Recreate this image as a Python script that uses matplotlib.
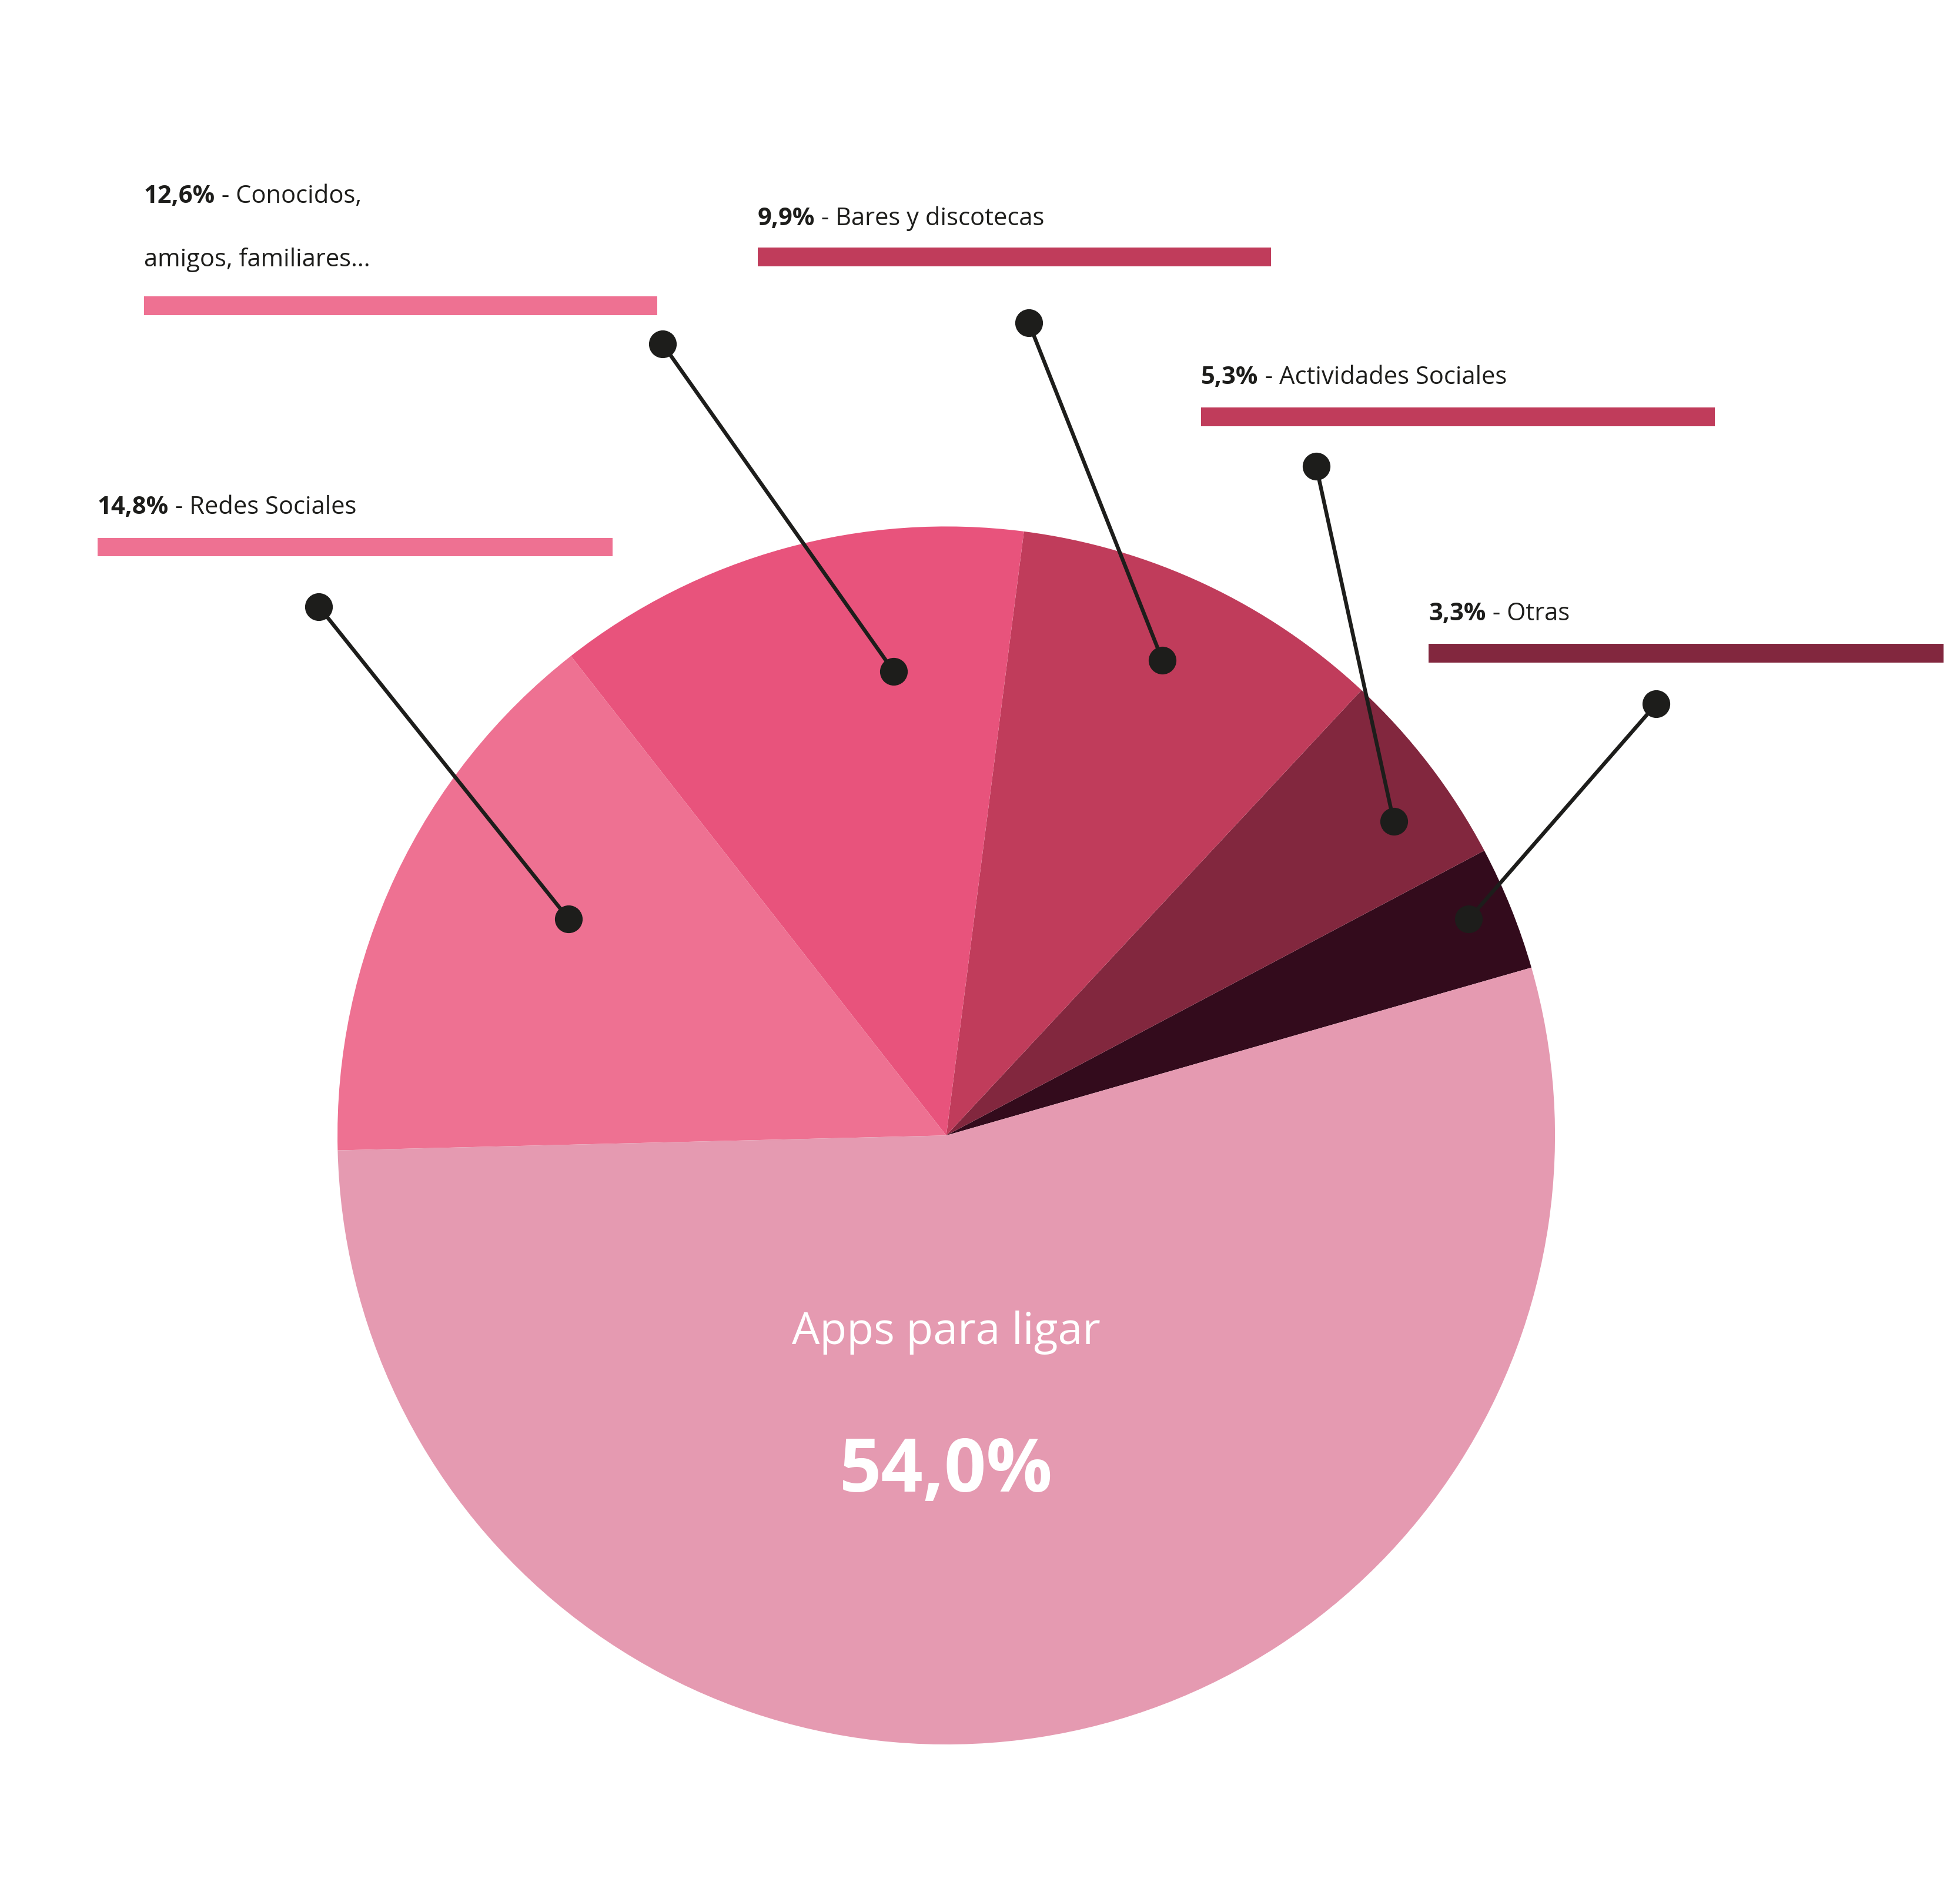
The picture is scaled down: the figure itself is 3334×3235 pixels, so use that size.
import matplotlib
matplotlib.use("Agg")
import matplotlib.pyplot as plt
from matplotlib.patches import Rectangle

labels = ["Otras", "Actividades Sociales", "Bares y discotecas", "Conocidos, amigos, familiares...", "Redes Sociales", "Apps para ligar"]
values = [3.3, 5.3, 9.9, 12.6, 14.8, 54.0]
pct_text = ["3,3%", "5,3%", "9,9%", "12,6%", "14,8%", "54,0%"]
colors = ["#330B1C", "#82273E", "#C03C5B", "#E8537C", "#EE7192", "#E59AB1"]
bar_colors = ["#82273E", "#C03C5B", "#C03C5B", "#EE7192", "#EE7192"]

W, H = 1568, 1521
fig = plt.figure(figsize=(33.34, 32.35), dpi=100)
ax = fig.add_axes([0, 0, 1, 1])
ax.set_xlim(0, W); ax.set_ylim(0, H); ax.axis("off")
Y = lambda y: H - y
FONT = "Open Sans"

cx, cy, R = 757, Y(908), 487
ax.pie(values, colors=colors, startangle=16, counterclock=True, center=(cx, cy), radius=R,
       frame=True, wedgeprops=dict(linewidth=0))
ax.set_xlim(0, W); ax.set_ylim(0, H); ax.set_aspect("auto"); ax.axis("off")

# label layout (text x, baseline y, bar y top, bar x end), leader (outer, inner)
lay = [
    (1143, 496, 515, 1555, (1325, 563), (1175, 735)),
    (961, 307, 326, 1372, (1053, 373), (1115, 657)),
    (606, 180, 198, 1017, (823, 258), (930, 528)),
    (115, 162, 237, 526, (530, 275), (715, 537)),
    (78, 411, 430, 490, (255, 485), (455, 735)),
]
fig.canvas.draw()
rend = fig.canvas.get_renderer()
fs = 30
for i, (tx, by, bt, bx2, o, inn) in enumerate(lay):
    t = ax.text(tx, Y(by), pct_text[i], fontsize=fs, fontweight="bold", family=FONT,
                color="#1d1d1b", va="baseline")
    bb = t.get_window_extent(renderer=rend)
    x2 = ax.transData.inverted().transform((bb.x1, bb.y0))[0]
    if i == 3:
        ax.text(x2, Y(by), " - Conocidos,", fontsize=fs, family=FONT, color="#1d1d1b", va="baseline")
        ax.text(tx, Y(213), "amigos, familiares...", fontsize=fs, family=FONT, color="#1d1d1b", va="baseline")
    else:
        ax.text(x2, Y(by), " - " + labels[i], fontsize=fs, family=FONT, color="#1d1d1b", va="baseline")
    ax.add_patch(Rectangle((tx, Y(bt + 15)), bx2 - tx, 15, color=bar_colors[i], lw=0))
    ax.plot([o[0], inn[0]], [Y(o[1]), Y(inn[1])], color="#1d1d1b", lw=2.2 * 2.126)
    ax.plot([o[0], inn[0]], [Y(o[1]), Y(inn[1])], "o", color="#1d1d1b", ms=34, mew=0)

ax.text(757, Y(1075), "Apps para ligar", fontsize=54, family=FONT, color="white", ha="center", va="baseline")
ax.text(757, Y(1193), pct_text[5], fontsize=90, family=FONT, fontweight="bold", color="white", ha="center", va="baseline")
fig.savefig("out.png", dpi=100, facecolor="white")
